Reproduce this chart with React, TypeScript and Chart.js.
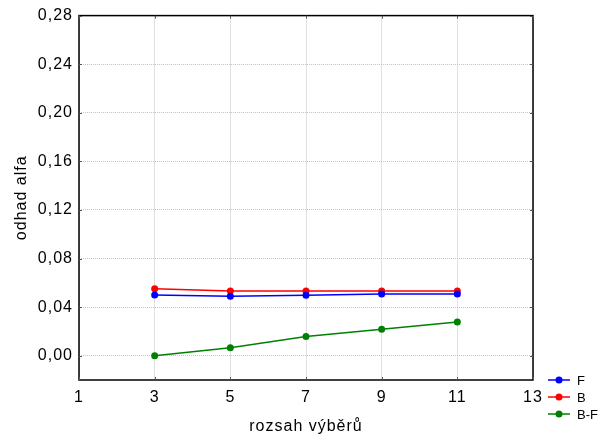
import React, { useEffect, useRef } from "react";
import { Chart, registerables } from "chart.js";

Chart.register(...registerables);

const sampleSizes = [3, 5, 7, 9, 11];
const seriesF = [0.05, 0.049, 0.0497, 0.0508, 0.0508];
const seriesB = [0.0551, 0.0532, 0.0532, 0.0532, 0.0532];
const seriesBF = [0.0, 0.0066, 0.0158, 0.0218, 0.0278];
const seriesNames = ["F", "B", "B-F"];
const seriesColors = ["#0000ff", "#ff0000", "#008000"];
const xTickValues = [1, 3, 5, 7, 9, 11, 13];
const yTickValues = [0, 0.04, 0.08, 0.12, 0.16, 0.2, 0.24, 0.28];
const xTitle = "rozsah výběrů";
const yTitle = "odhad alfa";

const FONT = "'Liberation Sans', Arial, sans-serif";

const spacingPlugin = {
  id: "spacing",
  beforeLayout(chart: any) {
    chart.ctx.letterSpacing = "1px";
  },
  beforeDraw(chart: any) {
    chart.ctx.letterSpacing = "1px";
  },
};

const framePlugin = {
  id: "frame",
  beforeDatasetsDraw(chart: any) {
    const { ctx, chartArea: a, scales } = chart;
    ctx.save();
    ctx.strokeStyle = "#000";
    ctx.lineWidth = 1.5;
    ctx.strokeRect(a.left, a.top, a.right - a.left, a.bottom - a.top);
    ctx.lineWidth = 1;
    ctx.strokeStyle = "#555";
    ctx.beginPath();
    xTickValues.forEach((v) => {
      const x = Math.round(scales.x.getPixelForValue(v)) + 0.5;
      ctx.moveTo(x, a.top);
      ctx.lineTo(x, a.top + 3);
      ctx.moveTo(x, a.bottom);
      ctx.lineTo(x, a.bottom - 3);
    });
    yTickValues.forEach((v) => {
      const y = Math.round(scales.y.getPixelForValue(v)) + 0.5;
      ctx.moveTo(a.left, y);
      ctx.lineTo(a.left + 3, y);
      ctx.moveTo(a.right, y);
      ctx.lineTo(a.right - 3, y);
    });
    ctx.stroke();
    ctx.restore();
  },
};

const legendPlugin = {
  id: "cornerLegend",
  afterDraw(chart: any) {
    const { ctx, chartArea: a } = chart;
    ctx.save();
    ctx.letterSpacing = "0px";
    ctx.font = `13px ${FONT}`;
    ctx.textBaseline = "middle";
    chart.data.datasets.forEach((ds: any, i: number) => {
      const y = a.bottom + i * 17;
      const x0 = a.right + 15;
      ctx.strokeStyle = ds.borderColor;
      ctx.lineWidth = 1.5;
      ctx.beginPath();
      ctx.moveTo(x0, y);
      ctx.lineTo(x0 + 22, y);
      ctx.stroke();
      ctx.fillStyle = ds.backgroundColor;
      ctx.beginPath();
      ctx.arc(x0 + 11, y, 3.5, 0, Math.PI * 2);
      ctx.fill();
      ctx.fillStyle = "#000";
      ctx.fillText(ds.label, x0 + 29, y + 1);
    });
    ctx.restore();
  },
};

export default function App() {
  const ref = useRef<HTMLCanvasElement>(null);
  useEffect(() => {
    if (!ref.current) return;
    const all = [seriesF, seriesB, seriesBF];
    const chart = new Chart(ref.current, {
      type: "line",
      data: {
        datasets: all.map((s, i) => ({
          label: seriesNames[i],
          data: s.map((y, j) => ({ x: sampleSizes[j], y })),
          borderColor: seriesColors[i],
          backgroundColor: seriesColors[i],
          borderWidth: 1.5,
          pointRadius: 3.5,
          pointBorderWidth: 0,
          pointBackgroundColor: seriesColors[i],
          tension: 0,
        })),
      },
      options: {
        animation: false,
        responsive: false,
        maintainAspectRatio: false,
        layout: { padding: { top: 14, right: 66, left: 0, bottom: 0 } },
        plugins: { legend: { display: false }, tooltip: { enabled: false } },
        scales: {
          x: {
            type: "linear",
            min: 1,
            max: 13,
            afterBuildTicks: (s: any) => {
              s.ticks = xTickValues.map((v) => ({ value: v }));
            },
            afterFit: (s: any) => {
              s.height = 60;
            },
            ticks: {
              font: { family: FONT, size: 16 },
              color: "#000",
              padding: 8,
              maxRotation: 0,
              autoSkip: false,
            },
            grid: { color: "#c4c4c4", drawTicks: false, lineWidth: 1 },
            border: { display: false, dash: [1, 1] },
            title: {
              display: true,
              text: xTitle,
              font: { family: FONT, size: 16 },
              color: "#000",
              padding: { top: 4, bottom: 4 },
            },
          },
          y: {
            type: "linear",
            min: -0.02,
            max: 0.28,
            afterBuildTicks: (s: any) => {
              s.ticks = yTickValues.map((v) => ({ value: v }));
            },
            afterFit: (s: any) => {
              s.width = 79;
            },
            ticks: {
              font: { family: FONT, size: 16 },
              color: "#000",
              padding: 6,
              callback: (v: any) => Number(v).toFixed(2).replace(".", ","),
            },
            grid: { color: "#c4c4c4", drawTicks: false, lineWidth: 1 },
            border: { display: false, dash: [1, 1] },
            title: {
              display: true,
              text: yTitle,
              font: { family: FONT, size: 16 },
              color: "#000",
              padding: { top: 12, bottom: 12 },
            },
          },
        },
      },
      plugins: [spacingPlugin, framePlugin, legendPlugin],
    } as any);
    return () => chart.destroy();
  }, []);
  return (
    <div style={{ position: "fixed", left: 0, top: 0, width: 599, height: 440, background: "#fff" }}>
      <canvas ref={ref} width={599} height={440} style={{ display: "block" }} />
    </div>
  );
}
